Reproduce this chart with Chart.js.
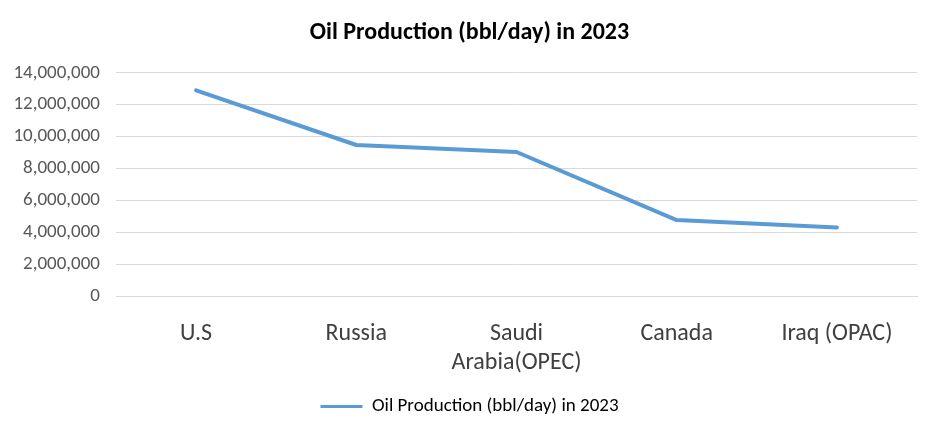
<!DOCTYPE html>
<html>
<head>
<meta charset="utf-8">
<script src="https://cdn.jsdelivr.net/npm/chart.js@4"></script>
<style>
html,body{margin:0;padding:0;background:#fff;}
#wrap{width:939px;height:436px;position:relative;}
</style>
</head>
<body>
<div id="wrap"><canvas id="c"></canvas></div>
<script>
const categories = ['U.S', 'Russia', ['Saudi', 'Arabia(OPEC)'], 'Canada', 'Iraq (OPAC)'];
const seriesName = 'Oil Production (bbl/day) in 2023';
const production = [12900000, 9480000, 9040000, 4780000, 4320000];
const yTicks = [0, 2000000, 4000000, 6000000, 8000000, 10000000, 12000000, 14000000];

const FONT = 'Carlito, Calibri, Lato, "Open Sans", sans-serif';

new Chart(document.getElementById('c'), {
  type: 'line',
  data: {
    labels: categories,
    datasets: [{
      label: seriesName,
      data: production,
      borderColor: '#5b9bd5',
      backgroundColor: '#5b9bd5',
      borderWidth: 4,
      pointRadius: 0,
      tension: 0,
      borderCapStyle: 'round',
      borderJoinStyle: 'round'
    }]
  },
  options: {
    responsive: true,
    maintainAspectRatio: false,
    animation: false,
    devicePixelRatio: 1,
    layout: { padding: { left: 0, right: 0, top: 0, bottom: 10 } },
    plugins: {
      title: {
        display: true,
        text: seriesName,
        color: '#000',
        font: { family: FONT, size: 24, weight: 'bold', lineHeight: 1.2 },
        padding: { top: 19, bottom: 25 }
      },
      legend: {
        position: 'bottom',
        labels: {
          color: '#404040',
          font: { family: FONT, size: 19 },
          boxWidth: 42,
          boxHeight: 3,
          padding: 5,
          generateLabels: (chart) => [{
            text: seriesName,
            fillStyle: '#5b9bd5',
            strokeStyle: '#5b9bd5',
            lineWidth: 0,
            datasetIndex: 0
          }]
        }
      },
      tooltip: { enabled: false }
    },
    scales: {
      x: {
        offset: true,
        grid: { display: false, offset: true },
        border: { display: true, color: '#d9d9d9', width: 1 },
        ticks: {
          color: '#404040',
          font: { family: FONT, size: 24, lineHeight: 1.2 },
          maxRotation: 0,
          autoSkip: false,
          padding: 15
        }
      },
      y: {
        min: 0,
        max: 14000000,
        afterBuildTicks: (scale) => { scale.ticks = yTicks.map(v => ({ value: v })); },
        afterFit: (scale) => { scale.width = 116; },
        grid: { color: '#d9d9d9', lineWidth: 1, drawTicks: false },
        border: { display: false },
        ticks: {
          color: '#595959',
          font: { family: FONT, size: 19 },
          padding: 16,
          callback: (v) => Number(v).toLocaleString('en-US')
        }
      },
      yRight: {
        position: 'right',
        display: true,
        grid: { display: false, drawTicks: false },
        border: { display: false },
        ticks: { display: false },
        afterFit: (scale) => { scale.width = 22; }
      }
    }
  }
});
</script>
</body>
</html>
